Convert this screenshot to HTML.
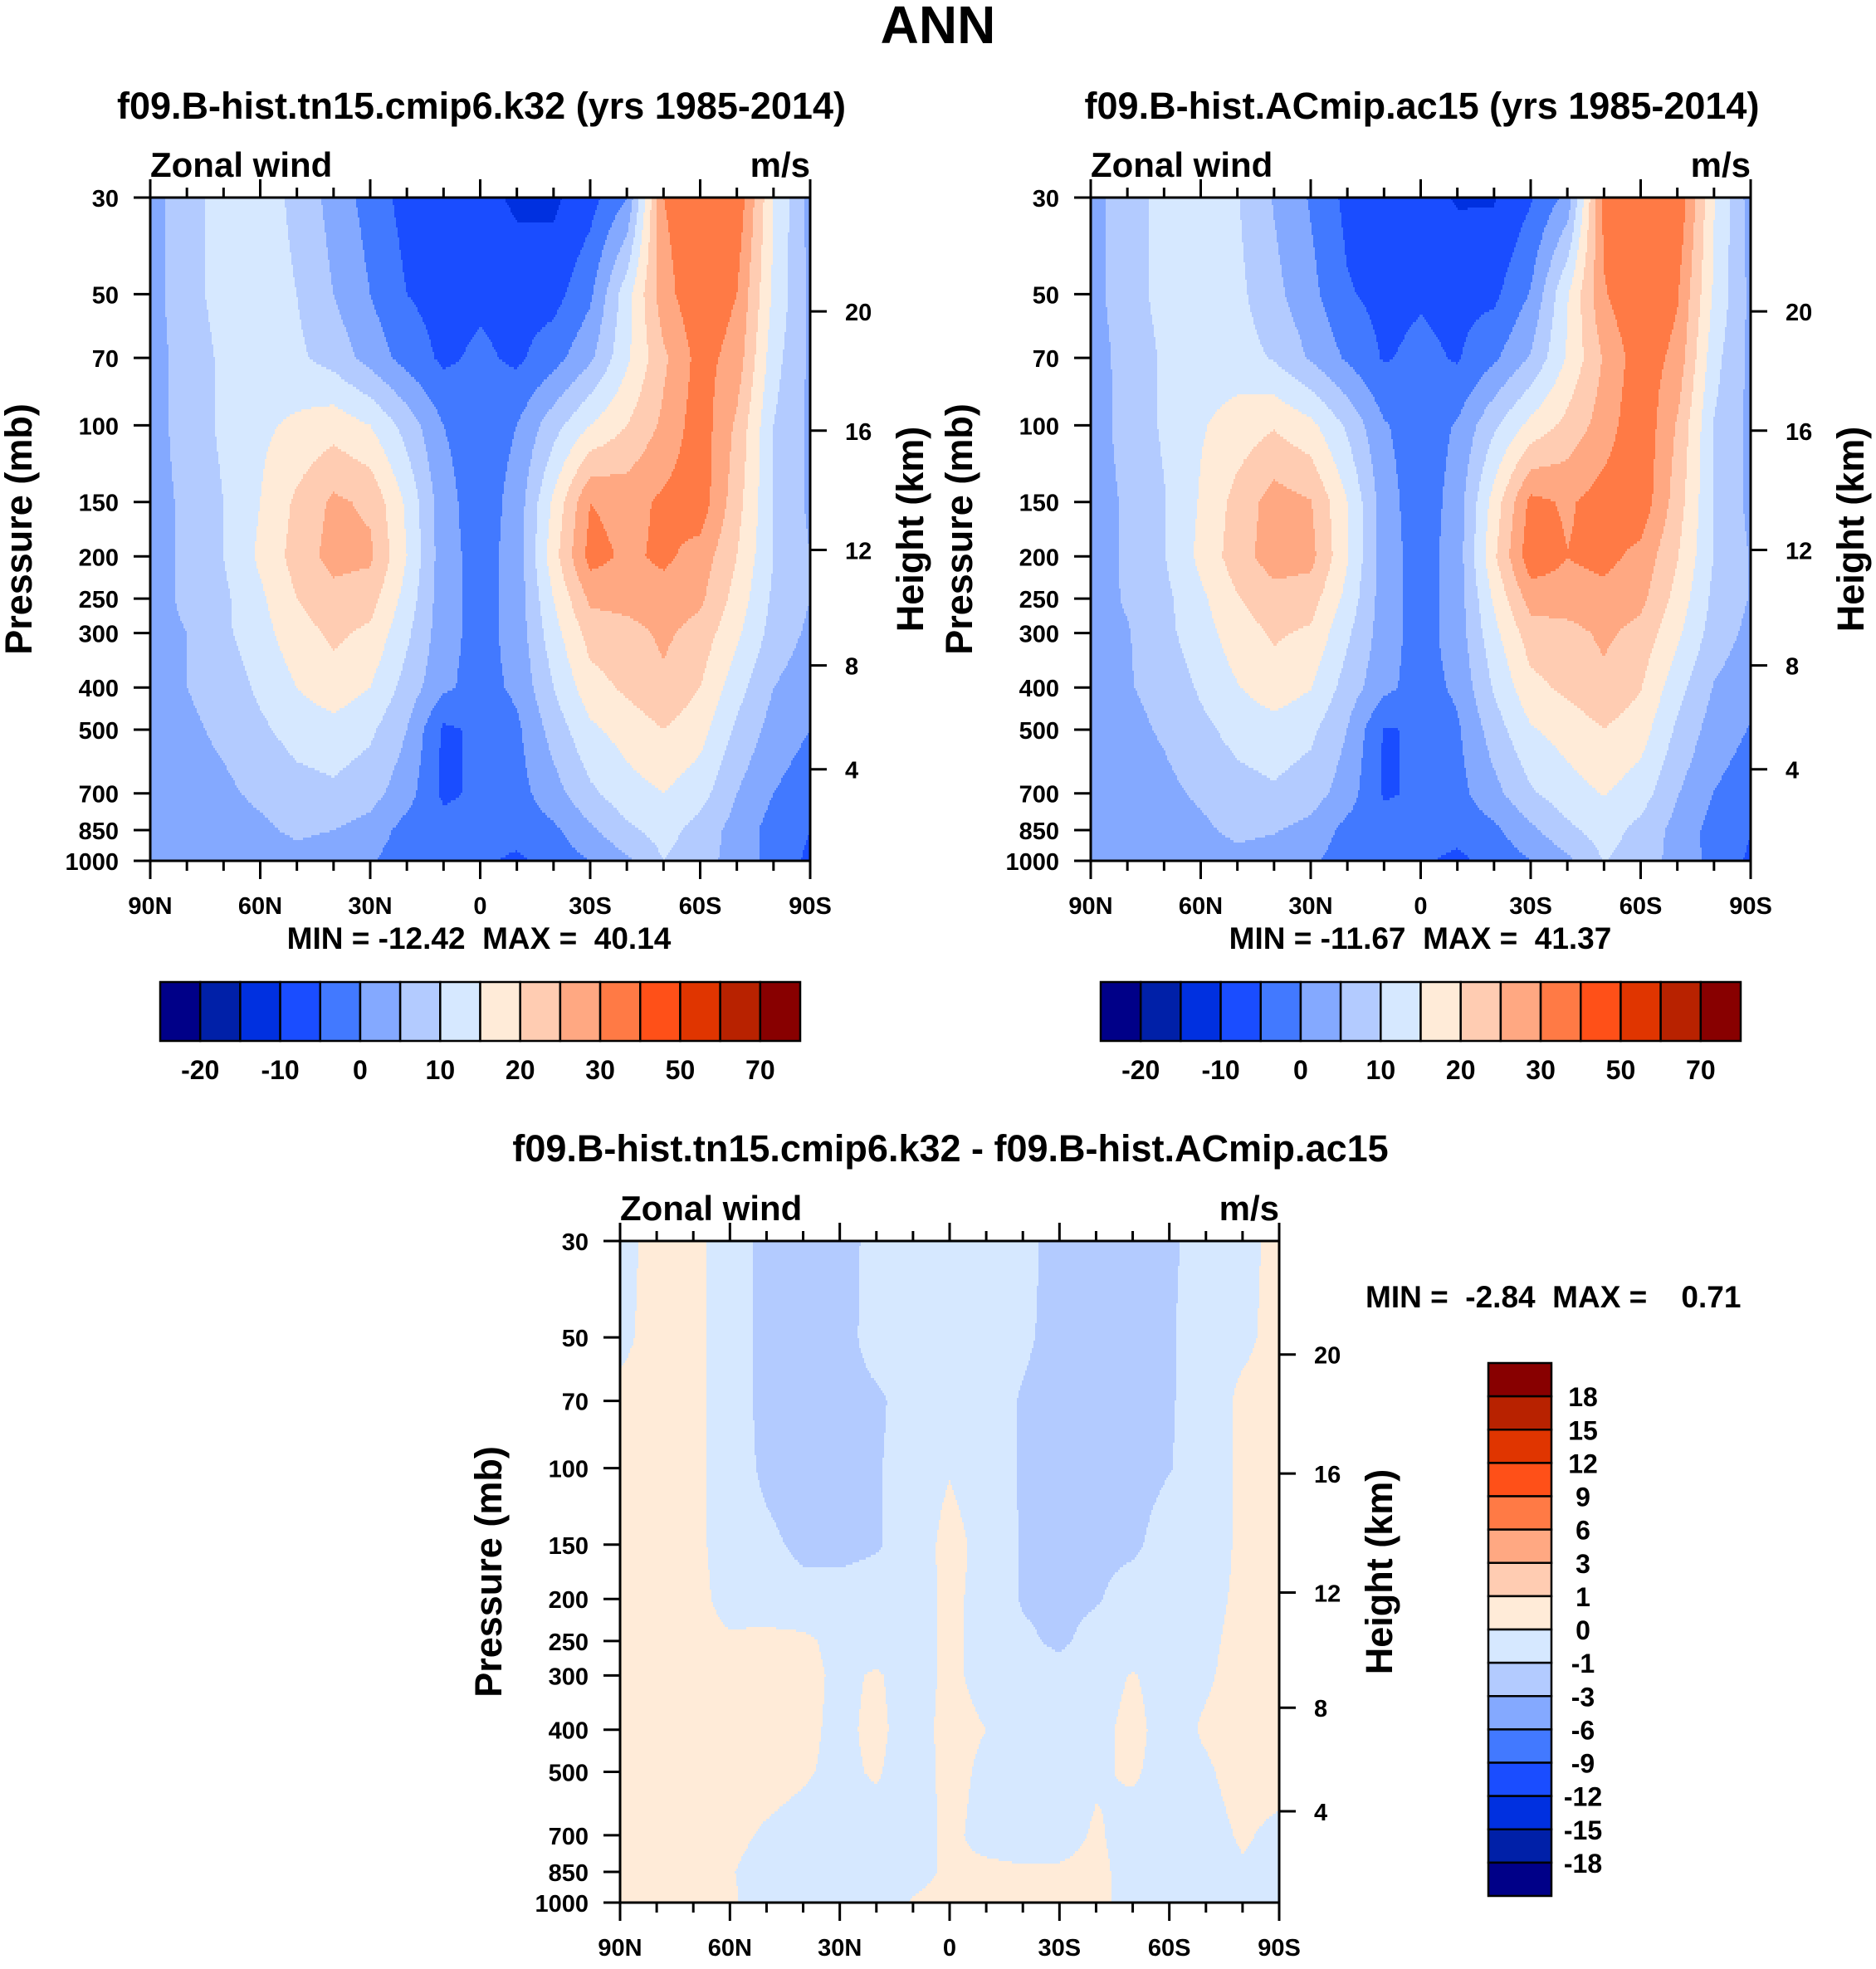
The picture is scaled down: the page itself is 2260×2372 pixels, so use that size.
<!DOCTYPE html>
<html><head><meta charset="utf-8"><title>ANN Zonal wind</title>
<style>
html,body{margin:0;padding:0;background:#fff;}
svg text{font-family:"Liberation Sans",sans-serif;font-weight:bold;fill:#000;}
</style></head>
<body>
<svg id="fig" xmlns="http://www.w3.org/2000/svg" width="2260" height="2367" viewBox="0 0 2260 2367">
<text x="1130" y="52" font-size="64" text-anchor="middle">ANN</text>
<text x="580" y="143" font-size="45" text-anchor="middle">f09.B-hist.tn15.cmip6.k32 (yrs 1985-2014)</text>
<text x="1713" y="143" font-size="45" text-anchor="middle">f09.B-hist.ACmip.ac15 (yrs 1985-2014)</text>
<text x="1145" y="1399" font-size="45" text-anchor="middle">f09.B-hist.tn15.cmip6.k32 - f09.B-hist.ACmip.ac15</text>
<text x="577" y="1143" font-size="37" text-anchor="middle" xml:space="preserve">MIN = -12.42  MAX =  40.14</text>
<text x="1711" y="1143" font-size="37" text-anchor="middle" xml:space="preserve">MIN = -11.67  MAX =  41.37</text>
<text x="1645" y="1575" font-size="37" xml:space="preserve">MIN =  -2.84  MAX =    0.71</text>
<g id="layer"></g>
</svg>
<script>
const lats=[90,80,70,60,50,40,30,20,10,0,-10,-20,-30,-40,-50,-60,-70,-80,-90];
const levs=[30,50,70,100,150,200,250,300,400,500,700,850,1000];
const u1=[
[3,8,12,12,9,3,-2,-7,-8,-8,-11,-11,-7,0,30,34,34,15,3],
[3,8,12,12,10,5,0,-5,-7,-6,-7,-7,-1,13,28,34,30,14,4],
[3,7,11,12,11,8,3,-2,-6,-4,-6,-2,4,14,24,32,28,12,4],
[3,7,11,14,16,18,15,8,0,-3,0,8,15,20,26,33,24,10,4],
[3,6,10,15,21,26,24,14,2,-3,2,16,30,28,31,33,22,10,4],
[3,6,10,16,22,27,26,15,2,-2,2,18,32,29,31,28,20,10,5],
[3,6,9,14,20,23,22,13,2,-2,2,15,26,27,28,26,18,9,5],
[3,5,9,13,18,21,19,11,2,-2,2,13,22,23,26,23,16,8,4],
[2,5,7,11,15,18,15,8,1,-2,1,10,18,21,24,20,12,5,2],
[2,4,6,9,12,13,11,5,-6,-4,-1,7,14,17,20,17,9,3,0],
[2,3,4,6,8,9,7,2,-6,-4,-2,3,9,13,15,12,5,0,-3],
[1,2,3,4,6,5,3,-2,-3,-3,-3,-1,4,9,12,8,3,-2,-5],
[1,0.5,1,2,3,2,0.5,-3,-3,-4,-6,-3,0,4,10,7,3,-2,-6]];
const du=[
[-0.3,0.3,0.3,-0.5,-1.3,-1.6,-1.5,-0.6,-0.4,-0.4,-0.5,-0.6,-1.5,-1.6,-1.5,-1.2,-0.5,-0.3,0.3],
[-0.2,0.3,0.3,-0.5,-1.3,-1.5,-1.5,-0.5,-0.4,-0.4,-0.5,-0.8,-1.4,-1.6,-1.5,-1.1,-0.5,-0.2,0.3],
[0.2,0.3,0.3,-0.5,-1.3,-1.5,-1.4,-1.2,-0.5,-0.3,-0.5,-1.1,-1.5,-1.6,-1.5,-1.1,-0.5,0.2,0.3],
[0.3,0.3,0.3,-0.5,-1.2,-1.5,-1.4,-1.1,-0.5,-0.05,-0.5,-1.1,-1.5,-1.5,-1.4,-1.05,-0.5,0.2,0.3],
[0.3,0.3,0.3,-0.5,-0.8,-1.2,-1.3,-1.1,-0.5,0.3,-0.3,-1.1,-1.4,-1.3,-1.2,-0.5,-0.5,0.2,0.3],
[0.3,0.3,0.3,-0.3,-0.6,-0.7,-0.6,-0.5,-0.4,0.2,-0.3,-1.1,-1.3,-1.1,-0.5,-0.5,-0.3,0.2,0.3],
[0.4,0.4,0.3,0.1,0.3,0.2,-0.3,-0.4,-0.4,0.2,-0.3,-0.8,-1.2,-0.6,-0.4,-0.4,-0.2,0.3,0.3],
[0.3,0.4,0.4,0.3,0.3,0.3,-0.2,0.1,-0.4,0.2,-0.3,-0.5,-0.6,-0.3,0.05,-0.3,-0.1,0.3,0.3],
[0.3,0.4,0.4,0.3,0.3,0.2,-0.2,0.2,-0.4,0.3,0,-0.5,-0.5,-0.2,0.2,-0.3,0.1,0.3,0.3],
[0.3,0.4,0.4,0.3,0.3,0.1,-0.2,0.1,-0.5,0.3,-0.2,-0.5,-0.5,-0.1,0.1,-0.3,-0.1,0.3,0.3],
[0.3,0.4,0.3,0.2,-0.1,-0.3,-0.4,-0.4,-0.4,0.2,-0.3,-0.4,-0.3,0.1,-0.3,-0.4,-0.3,0.1,-0.2],
[0.3,0.3,0.2,0.05,-0.3,-0.4,-0.4,-0.4,-0.2,0.1,0.2,0.1,0.1,0.2,-0.3,-0.4,-0.3,-0.1,-0.2],
[0.3,0.3,0.2,0.1,-0.3,-0.4,-0.4,-0.4,0.05,0.2,0.2,0.2,0.2,0.2,-0.3,-0.3,-0.3,-0.2,-0.2]];
const u2=u1.map((r,k)=>r.map((v,i)=>v-du[k][i]));
const uLevels=[-20,-15,-10,-5,0,5,10,15,20,25,30,40,50,60,70];
const uLabels=["-20","-10","0","10","20","30","50","70"];
const dLevels=[-18,-15,-12,-9,-6,-3,-1,0,1,3,6,9,12,15,18];
const dLabels=["-18","-15","-12","-9","-6","-3","-1","0","1","3","6","9","12","15","18"];
const presTicks=[30,50,70,100,150,200,250,300,400,500,700,850,1000];
const heightTicks=[20,16,12,8,4];
const latTickLabels=["90N","60N","30N","0","30S","60S","90S"];
const colors=["#000088","#0020a8","#0030e0","#1a4dff","#4279ff","#84a9ff","#b3cbff","#d6e8ff","#ffebd8","#ffccb2","#ffa882","#ff7a45","#ff5018","#e03500","#b82200","#880000"];

const NS="http://www.w3.org/2000/svg";
const layer=document.getElementById('layer');
function mk(tag,attrs,parent){const e=document.createElementNS(NS,tag);for(const k in attrs)e.setAttribute(k,attrs[k]);(parent||layer).appendChild(e);return e;}
function stdP(hkm){const h=hkm*1000;if(h<=11000)return 1013.25*Math.pow(1-2.25577e-5*h,5.25588);return 226.32*Math.exp(-(h-11000)/6341.6);}
function field(grid,lat,p){
  let fi=(90-lat)/10; fi=Math.max(0,Math.min(17.9999,fi)); const i=Math.floor(fi), tx=fi-i;
  let k=0; while(k<levs.length-2 && p>levs[k+1])k++;
  let ty=Math.log(p/levs[k])/Math.log(levs[k+1]/levs[k]); ty=Math.max(0,Math.min(1,ty));
  const a=grid[k][i],b=grid[k][i+1],c=grid[k+1][i],d=grid[k+1][i+1];
  return (a*(1-tx)+b*tx)*(1-ty)+(c*(1-tx)+d*tx)*ty;
}
function lvlIdx(levels,v){let n=0;for(const l of levels)if(v>=l)n++;return n;}

function panel(name,grid,levels,L,R,T,B){
  const g=mk('g',{});
  
  
  const yP=p=>T+(B-T)*Math.log(p/30)/Math.log(1000/30);
  const xL=lat=>L+(R-L)*(90-lat)/180;
  const fg=mk('g',{'shape-rendering':'crispEdges'},g);
  
  
  const dy=3,dx=2;
  for(let y=T;y<B;y+=dy){
    const p=30*Math.pow(1000/30,(y+dy/2-T)/(B-T));
    const h=Math.min(dy,B-y)+0.5;
    let runStart=L,runC=-1;
    for(let x=L;x<R;x+=dx){
      const lat=90-180*(Math.min(x+dx/2,R)-L)/(R-L);
      const c=lvlIdx(levels,field(grid,lat,p));
      if(c!==runC){
        if(runC>=0){mk('rect',{x:runStart,y:y,width:x-runStart+0.5,height:h,fill:colors[runC]},fg);}
        runStart=x;runC=c;
      }
    }
    if(runC>=0){mk('rect',{x:runStart,y:y,width:R-runStart,height:h,fill:colors[runC]},fg);}
  }
  const ax=mk('g',{stroke:'#000','stroke-width':3,fill:'none'},g);
  
  
  mk('rect',{x:L,y:T,width:R-L,height:B-T},ax);
  presTicks.forEach(p=>{
    const y=yP(p);
    mk('line',{x1:L-20,y1:y,x2:L,y2:y},ax);
    const t=mk('text',{x:L-38,y:y+11,'font-size':29,'text-anchor':'end'},g);
    
    
    t.textContent=String(p);
  });
  heightTicks.forEach(h=>{
    const y=yP(stdP(h));
    mk('line',{x1:R,y1:y,x2:R+20,y2:y},ax);
    const t=mk('text',{x:R+42,y:y+11,'font-size':29},g);
    
    
    t.textContent=String(h);
  });
  for(let lat=90;lat>=-90;lat-=10){
    const x=xL(lat), major=(lat%30===0), len=major?22:12;
    mk('line',{x1:x,y1:T,x2:x,y2:T-len},ax);
    mk('line',{x1:x,y1:B,x2:x,y2:B+len},ax);
  }
  latTickLabels.forEach((s,j)=>{
    const t=mk('text',{x:xL(90-30*j),y:B+64,'font-size':29,'text-anchor':'middle'},g);
    
    
    t.textContent=s;
  });
  const zw=mk('text',{x:L,y:T-25,'font-size':42},g);
  
  
  zw.textContent='Zonal wind';
  const ms=mk('text',{x:R,y:T-25,'font-size':42,'text-anchor':'end'},g);
  
  
  ms.textContent='m/s';
  const cy=(T+B)/2;
  const pt=mk('text',{x:0,y:0,'font-size':45,'text-anchor':'middle',transform:`translate(${L-143},${cy}) rotate(-90)`},g);
  
  
  pt.textContent='Pressure (mb)';
  const ht=mk('text',{x:0,y:0,'font-size':45,'text-anchor':'middle',transform:`translate(${R+136},${cy}) rotate(-90)`},g);
  
  
  ht.textContent='Height (km)';
}
panel('panel1',u1,uLevels,181,976,238,1037);
panel('panel2',u2,uLevels,1314,2109,238,1037);
panel('panel3',du,dLevels,747,1541,1495,2292);

function hbar(name,x0,x1,y0,y1){
  const g=mk('g',{});
  
  
  const w=(x1-x0)/16;
  colors.forEach((c,i)=>{mk('rect',{x:x0+i*w,y:y0,width:w,height:y1-y0,fill:c,stroke:'#000','stroke-width':2.5},g);});
  uLabels.forEach((s,j)=>{
    const t=mk('text',{x:x0+w*(1+2*j),y:y1+46,'font-size':32,'text-anchor':'middle'},g);
    
    
    t.textContent=s;
  });
}
hbar('panel1-colorbar',193,964,1183,1254);
hbar('panel2-colorbar',1326,2097,1183,1254);
(function(){
  const g=mk('g',{});
  
  
  const x0=1793,x1=1869,y0=1642,y1=2284,h=(y1-y0)/16;
  colors.slice().reverse().forEach((c,i)=>{mk('rect',{x:x0,y:y0+i*h,width:x1-x0,height:h,fill:c,stroke:'#000','stroke-width':2.5},g);});
  dLabels.slice().reverse().forEach((s,j)=>{
    const t=mk('text',{x:1907,y:y0+h*(j+1)+12,'font-size':32,'text-anchor':'middle'},g);
    
    
    t.textContent=s;
  });
})();
</script>
</body></html>
